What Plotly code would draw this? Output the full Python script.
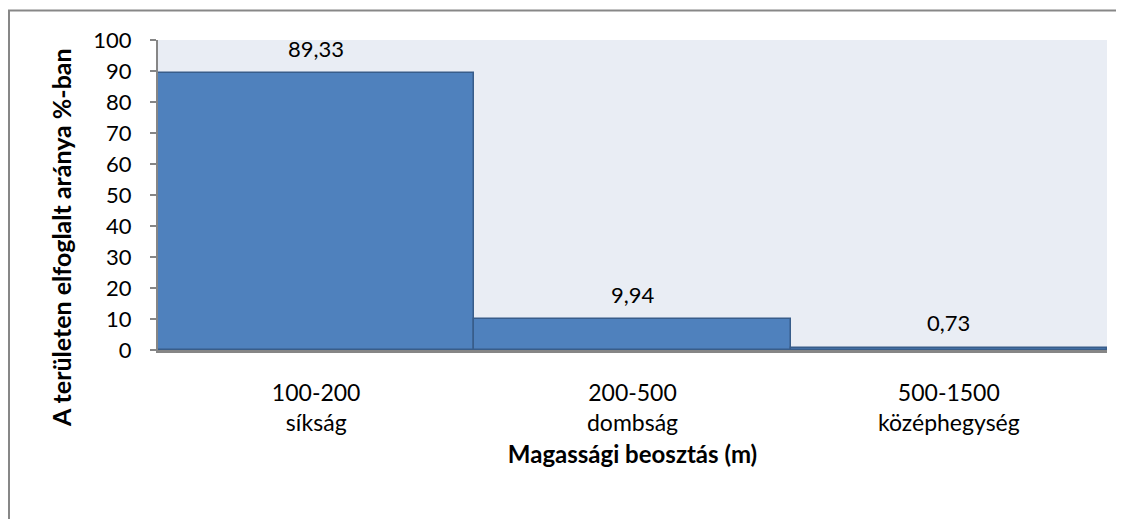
import plotly.graph_objects as go

ranges = ["100-200", "200-500", "500-1500"]
names = ["síkság", "dombság", "középhegység"]
values = [89.33, 9.94, 0.73]
y_ticks = [0, 10, 20, 30, 40, 50, 60, 70, 80, 90, 100]

FONT = "Lato"
cats = [f"{r}<br>{n}" for r, n in zip(ranges, names)]

# page has an 8px body offset; margins compensate
L, R, T, B = 150, 25, 32, 177
PW, PH = 1124 - L - R, 519 - T - B

fig = go.Figure()
fig.add_trace(go.Bar(
    x=cats, y=values,
    marker=dict(color="#4F81BD", line=dict(color="#385D8A", width=1.5)),
    hoverinfo="skip",
))

for c, v in zip(cats, values):
    fig.add_annotation(
        x=c, y=v, xref="x", yref="y",
        text=f"{v:.2f}".replace(".", ","),
        showarrow=False, yanchor="middle", yshift=25,
        font=dict(family=FONT, size=22, color="#000000"),
    )

# y-axis title (placed like the original, lower than the plot centre)
fig.add_annotation(
    xref="paper", yref="paper",
    x=-(158 - 61) / PW, y=(350 - 238) / PH,
    text="<b>A területen elfoglalt aránya %-ban</b>",
    textangle=-90, showarrow=False, xanchor="center", yanchor="middle",
    font=dict(family=FONT, size=25, color="#000000"),
)

fig.update_layout(
    width=1124, height=519,
    margin=dict(l=L, r=R, t=T, b=B),
    paper_bgcolor="#FFFFFF",
    plot_bgcolor="#E9EDF4",
    bargap=0,
    showlegend=False,
    font=dict(family=FONT, size=22, color="#000000"),
    xaxis=dict(
        showline=True, linecolor="#868686", linewidth=3,
        ticks="", ticklabelstandoff=20,
        tickfont=dict(family=FONT, size=23),
        title=dict(text="<b>Magassági beosztás (m)</b>", standoff=12,
                   font=dict(family=FONT, size=24)),
        showgrid=False,
    ),
    yaxis=dict(
        range=[0, 100], tickvals=y_ticks,
        showline=True, linecolor="#868686", linewidth=2,
        ticks="outside", ticklen=6, tickcolor="#868686", tickwidth=2,
        ticklabelstandoff=14,
        tickfont=dict(family=FONT, size=22),
        showgrid=False, zeroline=False,
    ),
    shapes=[dict(type="rect", xref="paper", yref="paper",
                 x0=-(L - 1) / PW, x1=1.1, y0=-0.7, y1=1 + (T - 2.5) / PH,
                 line=dict(color="#878787", width=2), fillcolor="rgba(0,0,0,0)",
                 layer="below")],
)

fig.write_html("out.html")
